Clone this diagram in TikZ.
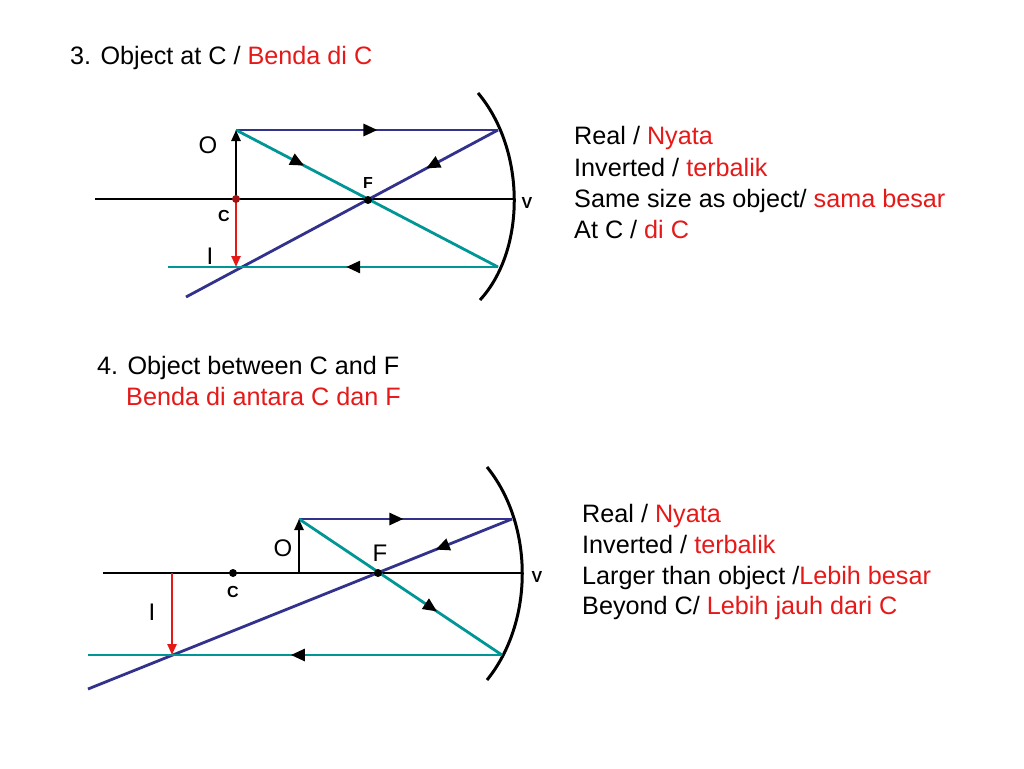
\documentclass[tikz,border=0pt]{standalone}
\usepackage{fontspec}
\setmainfont{Liberation Sans}
\usetikzlibrary{decorations.markings,arrows.meta}
\definecolor{navy}{RGB}{50,50,140}
\definecolor{teal2}{RGB}{0,150,150}
\definecolor{red2}{RGB}{230,25,25}
\begin{document}
\begin{tikzpicture}[x=1pt,y=-1pt,
  txt/.style={anchor=base west,inner sep=0,font=\fontsize{25.2}{30}\selectfont},
  lbl/.style={inner sep=0,font=\fontsize{24}{28}\selectfont},
  blbl/.style={inner sep=0,font=\fontsize{16}{19}\selectfont\bfseries},
  ray/.style={line width=2.8pt},
  mk/.style={postaction={decorate},decoration={markings,mark=at position #1 with {\arrow{Triangle[length=14pt,width=12pt,color=black]}}}},
  dotc/.style={circle,fill,inner sep=0,minimum size=8pt}]
\useasboundingbox (0,0) rectangle (1024,768);
% ---------- diagram 3
\node[txt] (t3) at (70,64) {3. Object at C / \textcolor{red2}{Benda di C}};
\coordinate (a1) at (95,199); \coordinate (a2) at (515,199);
\draw[line width=2.6pt] (a1) -- (a2);
\node[blbl] (v1) at (527,203) {V};
\draw[line width=3pt] (478,93) .. controls (526,150) and (526,250) .. (480,300);
\coordinate (o1b) at (236,199); \coordinate (o1t) at (236,130);
\coordinate (m1t) at (498,130); \coordinate (m1b) at (498,267);
\coordinate (f1) at (368,200); \coordinate (e1) at (186,297); \coordinate (i1) at (236,267);
\coordinate (l1) at (168,267);
\draw[ray,navy,mk=0.54] (o1t) -- (m1t);
\draw[ray,navy,mk=0.23] (m1t) -- (e1);
\draw[ray,teal2,mk=0.26] (o1t) -- (m1b);
\draw[ray,teal2,mk=0.46] (m1b) -- (l1);
\draw[line width=2.4pt,-{Triangle[length=11pt,width=9pt]}] (o1b) -- (o1t);
\draw[line width=2.4pt,red2,-{Triangle[length=11pt,width=9pt]}] (o1b) -- (i1);
\node[dotc,red2!70!black] (c1) at (o1b) {};
\node[dotc,black] (fd1) at (f1) {};
\node[lbl] (O1) at (208,145) {O};
\node[blbl] (C1) at (224,216) {C};
\node[lbl] (I1) at (210,256) {I};
\node[blbl] (F1) at (368,183) {F};
\node[txt] (r1) at (574,144) {Real / \textcolor{red2}{Nyata}};
\node[txt] (r2) at (574,176) {Inverted / \textcolor{red2}{terbalik}};
\node[txt] (r3) at (574,207) {Same size as object/ \textcolor{red2}{sama besar}};
\node[txt] (r4) at (574,238) {At C / \textcolor{red2}{di C}};
% ---------- diagram 4
\node[txt] (t4a) at (97,374) {4. Object between C and F};
\node[txt,red2] (t4b) at (126,405) {Benda di antara C dan F};
\coordinate (b1) at (103,573); \coordinate (b2) at (522,573);
\draw[line width=2.6pt] (b1) -- (b2);
\node[blbl] (v2) at (537,577) {V};
\draw[line width=3pt] (487,467) .. controls (534,525) and (534,622) .. (487,680);
\coordinate (o2b) at (299,573); \coordinate (o2t) at (299,519);
\coordinate (m2t) at (512,519); \coordinate (m2b) at (502,655);
\coordinate (f2) at (378,573); \coordinate (e2) at (88,689);
\coordinate (i2t) at (172,573); \coordinate (i2b) at (172,655); \coordinate (l2) at (88,655);
\draw[ray,navy,mk=0.49] (o2t) -- (m2t);
\draw[ray,navy,mk=0.18] (m2t) -- (e2);
\draw[ray,teal2,mk=0.68] (o2t) -- (m2b);
\draw[ray,teal2,mk=0.51] (m2b) -- (l2);
\draw[line width=2.4pt,-{Triangle[length=11pt,width=9pt]}] (o2b) -- (o2t);
\draw[line width=2.4pt,red2,-{Triangle[length=11pt,width=9pt]}] (i2t) -- (i2b);
\node[dotc,black] (c2) at (233,573) {};
\node[dotc,black] (fd2) at (f2) {};
\node[lbl] (O2) at (283,548) {O};
\node[blbl] (C2) at (233,592) {C};
\node[lbl] (I2) at (152,612) {I};
\node[lbl] (F2) at (380,553) {F};
\node[txt] (s1) at (582,522) {Real / \textcolor{red2}{Nyata}};
\node[txt] (s2) at (582,553) {Inverted / \textcolor{red2}{terbalik}};
\node[txt] (s3) at (582,584) {Larger than object /\textcolor{red2}{Lebih besar}};
\node[txt] (s4) at (582,614) {Beyond C/ \textcolor{red2}{Lebih jauh dari C}};
\end{tikzpicture}
\end{document}
